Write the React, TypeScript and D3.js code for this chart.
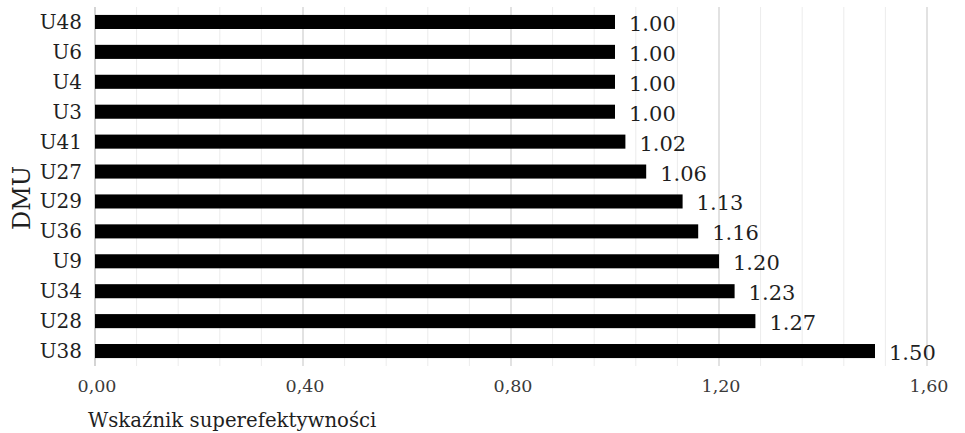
import React from "react";
import * as d3 from "d3";

// Superefficiency index per DMU, listed top to bottom
const dmus: string[] = ["U48", "U6", "U4", "U3", "U41", "U27", "U29", "U36", "U9", "U34", "U28", "U38"];
const scores: number[] = [1.0, 1.0, 1.0, 1.0, 1.02, 1.06, 1.13, 1.16, 1.2, 1.23, 1.27, 1.5];
const majorTicks: number[] = [0, 0.4, 0.8, 1.2, 1.6];
const xTitle = "Wskaźnik superefektywności";
const yTitle = "DMU";

const W = 965;
const H = 433;
const FONT = "'DejaVu Serif', 'Liberation Serif', serif";
const INK = "#1f1f1f";

export default function App() {
  const x = d3.scaleLinear().domain([0, 1.6]).range([95, 927]);
  const y = d3
    .scaleBand<string>()
    .domain(dmus)
    .range([7, 366])
    .paddingInner(0.53)
    .paddingOuter(0.265);

  const minorTicks = d3.range(0, 1.6001, 0.08).map((v) => +v.toFixed(2));
  const fmtTick = (v: number) => v.toFixed(2).replace(".", ",");
  const [top, bottom] = y.range();

  return (
    <svg
      width={W}
      height={H}
      style={{ position: "absolute", left: 0, top: 0, background: "#fff" }}
      fontFamily={FONT}
    >
      {/* minor grid */}
      {minorTicks.map((v) => (
        <line
          key={"mi" + v}
          x1={x(v)}
          x2={x(v)}
          y1={top}
          y2={bottom}
          stroke="#ececec"
          strokeWidth={1}
        />
      ))}
      {/* major grid */}
      {majorTicks.map((v) => (
        <line
          key={"ma" + v}
          x1={x(v)}
          x2={x(v)}
          y1={top}
          y2={bottom}
          stroke={v === 0 ? "#bfbfbf" : "#d6d6d6"}
          strokeWidth={1.2}
        />
      ))}

      {/* bars */}
      {dmus.map((d, i) => (
        <rect
          key={"b" + d}
          x={x(0)}
          y={y(d)}
          width={x(scores[i]) - x(0)}
          height={y.bandwidth()}
          fill="#000"
        />
      ))}

      {/* value labels */}
      {dmus.map((d, i) => (
        <text
          key={"v" + d}
          x={x(scores[i]) + 14}
          y={(y(d) as number) + y.bandwidth() / 2 + 9}
          fontSize={21}
          fill={INK}
        >
          {scores[i].toFixed(2)}
        </text>
      ))}

      {/* category labels */}
      {dmus.map((d) => (
        <text
          key={"c" + d}
          x={82}
          y={(y(d) as number) + y.bandwidth() / 2 + 7}
          fontSize={20}
          textAnchor="end"
          fill={INK}
        >
          {d}
        </text>
      ))}

      {/* x tick labels */}
      {majorTicks.map((v) => (
        <text
          key={"t" + v}
          x={x(v) + 2}
          y={392}
          fontSize={17.5}
          textAnchor="middle"
          fill="#3a3a3a"
        >
          {fmtTick(v)}
        </text>
      ))}

      {/* axis titles */}
      <text x={88} y={427} fontSize={19.7} fill={INK}>
        {xTitle}
      </text>
      <text
        transform={`translate(30,198) rotate(-90)`}
        fontSize={24}
        textAnchor="middle"
        fill={INK}
      >
        {yTitle}
      </text>
    </svg>
  );
}
